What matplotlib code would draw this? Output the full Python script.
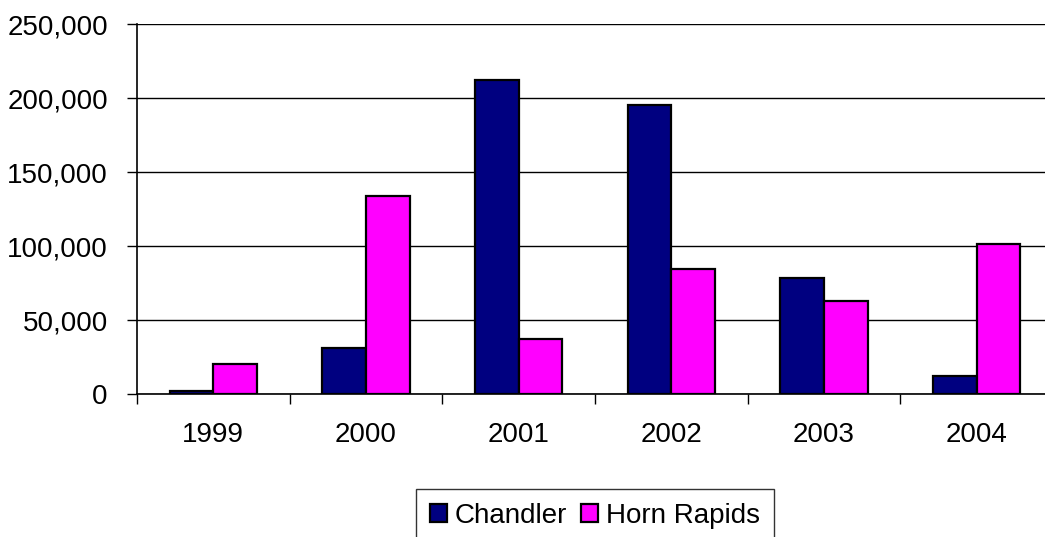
import numpy as np
import matplotlib
matplotlib.use('Agg')
from matplotlib import pyplot as plt
from matplotlib.ticker import FuncFormatter

years = ['1999', '2000', '2001', '2002', '2003', '2004']
chandler = [2000, 31000, 212000, 195000, 78500, 12500]
horn_rapids = [20000, 133500, 37000, 84500, 63000, 101500]

plt.rcParams['font.family'] = ['Liberation Sans', 'DejaVu Sans']

fig = plt.figure(figsize=(10.45, 5.37), dpi=100)
# plot area runs slightly past the right edge, as in the reference
ax = fig.add_axes([137 / 1045, 1 - 394 / 537, 916 / 1045, 370 / 537])

x = np.arange(len(years))
w = 1 / 3.5
ax.bar(x - w / 2, chandler, w, color='#000080', edgecolor='black', linewidth=1.6,
       label='Chandler', zorder=3)
ax.bar(x + w / 2, horn_rapids, w, color='#FF00FF', edgecolor='black', linewidth=1.6,
       label='Horn Rapids', zorder=3)

ax.set_xlim(-0.5, len(years) - 0.5)
ax.set_ylim(0, 250000)
ax.set_yticks(np.arange(0, 250001, 50000))
ax.yaxis.set_major_formatter(FuncFormatter(lambda v, p: '{:,.0f}'.format(v)))
ax.set_xticks(x)
ax.set_xticklabels(years)
ax.set_xticks(np.arange(-0.5, len(years)), minor=True)
ax.tick_params(axis='x', which='major', length=0, pad=20, labelsize=20)
ax.tick_params(axis='x', which='minor', length=7, width=1, direction='out')
ax.tick_params(axis='y', length=7, width=1, direction='out', labelsize=20, pad=14)
ax.grid(axis='y', color='black', linewidth=1, zorder=0)

for s in ['top', 'right']:
    ax.spines[s].set_visible(False)
ax.spines['left'].set_linewidth(1.2)
ax.spines['bottom'].set_linewidth(1.2)

leg = fig.legend(loc='upper center', bbox_to_anchor=(595 / 1045, 1 - 489 / 537),
                 ncol=2, fontsize=20, frameon=True, fancybox=False,
                 edgecolor='black', handlelength=0.6, handleheight=0.6,
                 handletextpad=0.3, columnspacing=0.5, borderpad=0.5,
                 borderaxespad=0)
leg.get_frame().set_linewidth(1)

plt.savefig('out.png', dpi=100)
